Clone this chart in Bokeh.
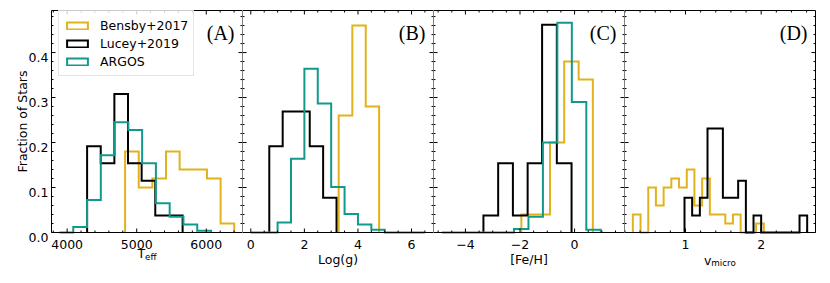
import math
import numpy as np
from bokeh.plotting import figure
from bokeh.models import Range1d, Label, Legend, LegendItem
from bokeh.layouts import row
from bokeh.embed import file_html
from bokeh.resources import INLINE

# ---------------- data (fraction of stars per bin) ----------------
series_names = ["Bensby+2017", "Lucey+2019", "ARGOS"]

# Panel A: Teff
bensby_teff_edges = [4833, 5029, 5225, 5421, 5617, 5814, 6010, 6206, 6402]
bensby_teff_frac = [0.18, 0.10, 0.12, 0.18, 0.14, 0.14, 0.12, 0.02]
lucey_teff_edges = [4287, 4483, 4679, 4875, 5071, 5267, 5464, 5660]
lucey_teff_frac = [0.192, 0.154, 0.308, 0.154, 0.115, 0.038, 0.038]
argos_teff_edges = [3890, 4088, 4286, 4484, 4682, 4880, 5078, 5276, 5474, 5672, 5870, 6068]
argos_teff_frac = [0.0, 0.012, 0.072, 0.172, 0.245, 0.228, 0.154, 0.065, 0.035, 0.018, 0.004]

# Panel B: log g
bensby_logg_edges = [3.28, 3.79, 4.29, 4.79]
bensby_logg_frac = [0.26, 0.46, 0.28]
lucey_logg_edges = [0.69, 1.19, 1.69, 2.20, 2.70, 3.20]
lucey_logg_frac = [0.192, 0.269, 0.269, 0.192, 0.077]
argos_logg_edges = [0.0, 0.5, 1.0, 1.5, 2.0, 2.5, 3.0, 3.5, 4.0, 4.5, 5.0, 5.5, 6.0, 6.5]
argos_logg_frac = [0.0, 0.0, 0.022, 0.164, 0.364, 0.287, 0.101, 0.041, 0.018, 0.006, 0.0, 0.0, 0.0]

# Panel C: [Fe/H]
bensby_feh_edges = [-1.95, -1.43, -0.90, -0.38, 0.15, 0.67]
bensby_feh_frac = [0.04, 0.04, 0.20, 0.38, 0.34]
lucey_feh_edges = [-3.34, -2.80, -2.26, -1.72, -1.19, -0.65, -0.11]
lucey_feh_frac = [0.038, 0.154, 0.038, 0.154, 0.462, 0.154]
argos_feh_edges = [-4.87, -4.34, -3.81, -3.28, -2.75, -2.22, -1.69, -1.16, -0.63, -0.10, 0.43, 0.96]
argos_feh_frac = [0.0, 0.0, 0.0, 0.0, 0.0, 0.008, 0.035, 0.20, 0.466, 0.29, 0.006]

# Panel D: v_micro
bensby_vmic_edges = [0.304, 0.406, 0.508, 0.609, 0.711, 0.813, 0.915, 1.017, 1.118, 1.220,
                     1.322, 1.424, 1.526, 1.627, 1.729, 1.831, 1.933, 2.035]
bensby_vmic_frac = [0.04, 0.0, 0.10, 0.06, 0.10, 0.12, 0.10, 0.14, 0.06, 0.12, 0.04, 0.04,
                    0.02, 0.04, 0.0, 0.0, 0.02]
lucey_vmic_edges = [0.987, 1.088, 1.190, 1.291, 1.392, 1.494, 1.595, 1.696, 1.798, 1.899,
                    2.000, 2.101, 2.203, 2.304, 2.405, 2.507, 2.608]
lucey_vmic_frac = [0.077, 0.038, 0.077, 0.231, 0.231, 0.077, 0.077, 0.115, 0.0, 0.038,
                   0.0, 0.0, 0.0, 0.0, 0.0, 0.038]

panel_tags = ["(A)", "(B)", "(C)", "(D)"]
y_tick_values = [0.0, 0.1, 0.2, 0.3, 0.4]
y_axis_title = "Fraction of Stars"

# ---------------- styling ----------------
COLORS = {"Bensby+2017": "#e2b21c", "Lucey+2019": "#000000", "ARGOS": "#119a8c"}
FONT = "DejaVu Sans"
FS = "12.5px"
FW, FH = 191, 222          # panel (axes box) size in px
TOP, BOT = 10, 46          # space above / below the axes box
LEFT, RIGHT = 51, 11
YMAX = 0.4935
MAJ, MIN = 4, 2            # inward tick lengths


def step_outline(edges, vals):
    xs, ys = [edges[0]], [0.0]
    for i, v in enumerate(vals):
        xs += [edges[i], edges[i + 1]]
        ys += [v, v]
    xs.append(edges[-1])
    ys.append(0.0)
    return xs, ys


def tick_positions(lo, hi, step):
    k0 = math.ceil(lo / step - 1e-9)
    k1 = math.floor(hi / step + 1e-9)
    return [k * step for k in range(k0, k1 + 1)]


def make_panel(xr, major, nminor, series, tag, left_pad=0, right_pad=0, minus_labels=False):
    x0, x1 = xr
    sx = (x1 - x0) / FW
    sy = YMAX / FH
    p = figure(width=left_pad + FW + right_pad, height=TOP + FH + BOT,
               x_range=Range1d(x0 - left_pad * sx, x1 + right_pad * sx),
               y_range=Range1d(-BOT * sy, YMAX + TOP * sy),
               x_axis_type=None, y_axis_type=None, min_border=0,
               output_backend="svg", toolbar_location=None)
    p.outline_line_color = None
    p.background_fill_color = "white"
    p.border_fill_color = "white"

    legend_renderers = {}
    for name, edges, vals in series:
        xs, ys = step_outline(edges, vals)
        p.line(xs, ys, line_color=COLORS[name], line_width=2, line_join="miter")
        legend_renderers[name] = p.quad(left=[np.nan], right=[np.nan], top=[np.nan],
                                        bottom=[np.nan], fill_color=None,
                                        line_color=COLORS[name], line_width=2,
                                        line_join="miter")

    # axes box
    p.quad(left=[x0], right=[x1], bottom=[0], top=[YMAX], fill_color=None,
           line_color="black", line_width=1)

    # ticks on all four sides, pointing inward
    majx = tick_positions(x0, x1, major)
    minx = [t for t in tick_positions(x0, x1, major / nminor)
            if min(abs(t - m) for m in majx) > 1e-6 * major]
    majy = tick_positions(0, YMAX, 0.1)
    miny = [t for t in tick_positions(0, YMAX, 0.02)
            if min(abs(t - m) for m in majy) > 1e-6]
    for ticks, ln in ((majx, MAJ), (minx, MIN)):
        p.segment(x0=ticks, y0=[0] * len(ticks), x1=ticks, y1=[ln * sy] * len(ticks),
                  line_color="black", line_width=1)
        p.segment(x0=ticks, y0=[YMAX] * len(ticks), x1=ticks,
                  y1=[YMAX - ln * sy] * len(ticks), line_color="black", line_width=1)
    for ticks, ln in ((majy, MAJ), (miny, MIN)):
        p.segment(x0=[x0] * len(ticks), y0=ticks, x1=[x0 + ln * sx] * len(ticks), y1=ticks,
                  line_color="black", line_width=1)
        p.segment(x0=[x1] * len(ticks), y0=ticks, x1=[x1 - ln * sx] * len(ticks), y1=ticks,
                  line_color="black", line_width=1)

    # x tick labels
    for t in majx:
        txt = ("%g" % t).replace("-", "\u2212") if minus_labels else "%g" % t
        p.add_layout(Label(x=t, y=-12 * sy, text=txt, text_font=FONT, text_font_size=FS,
                           text_align="center", text_baseline="alphabetic",
                           text_color="black"))

    # panel tag
    p.add_layout(Label(x=x1 - 8 * sx, y=YMAX - 22 * sy, text=tag,
                       text_font="Liberation Serif", text_font_size="20px",
                       text_align="right", text_baseline="alphabetic", text_color="black"))
    return p, legend_renderers, sx, sy


def add_xlabel(p, xr, sy, main, sub=None, main_base=21.0, sub_base=24.5, main_w=0, sub_w=0):
    xc = (xr[0] + xr[1]) / 2
    if sub is None:
        p.add_layout(Label(x=xc, y=-main_base * sy, text=main, text_font=FONT,
                           text_font_size=FS, text_align="center",
                           text_baseline="alphabetic", text_color="black"))
        return
    left = -(main_w + sub_w) / 2
    p.add_layout(Label(x=xc, y=-main_base * sy, x_offset=left, text=main, text_font=FONT,
                       text_font_size=FS, text_align="left", text_baseline="alphabetic",
                       text_color="black"))
    p.add_layout(Label(x=xc, y=-sub_base * sy, x_offset=left + main_w, text=sub,
                       text_font=FONT, text_font_size="8.75px", text_align="left",
                       text_baseline="alphabetic", text_color="black"))


xrA, xrB, xrC, xrD = (3775, 6521), (-0.31, 6.82), (-5.17, 1.83), (0.194, 2.718)

pA, legA, sxA, sy = make_panel(xrA, 1000, 5,
                               [("Bensby+2017", bensby_teff_edges, bensby_teff_frac),
                                ("Lucey+2019", lucey_teff_edges, lucey_teff_frac),
                                ("ARGOS", argos_teff_edges, argos_teff_frac)],
                               panel_tags[0], left_pad=LEFT)
pB, _, _, _ = make_panel(xrB, 2, 4,
                         [("Bensby+2017", bensby_logg_edges, bensby_logg_frac),
                          ("Lucey+2019", lucey_logg_edges, lucey_logg_frac),
                          ("ARGOS", argos_logg_edges, argos_logg_frac)], panel_tags[1])
pC, _, _, _ = make_panel(xrC, 2, 4,
                         [("Bensby+2017", bensby_feh_edges, bensby_feh_frac),
                          ("Lucey+2019", lucey_feh_edges, lucey_feh_frac),
                          ("ARGOS", argos_feh_edges, argos_feh_frac)], panel_tags[2],
                         minus_labels=True)
pD, _, _, _ = make_panel(xrD, 1, 5,
                         [("Bensby+2017", bensby_vmic_edges, bensby_vmic_frac),
                          ("Lucey+2019", lucey_vmic_edges, lucey_vmic_frac)], panel_tags[3],
                         right_pad=RIGHT)

add_xlabel(pA, xrA, sy, "T", "eff", main_base=21.0, sub_base=24.5, main_w=7.6, sub_w=11.5)
add_xlabel(pB, xrB, sy, "Log(g)", main_base=27.3)
add_xlabel(pC, xrC, sy, "[Fe/H]", main_base=27.3)
add_xlabel(pD, xrD, sy, "v", "micro", main_base=28.0, sub_base=30.5, main_w=7.4, sub_w=24.7)

# y tick labels and y axis title on panel A
for v in y_tick_values:
    pA.add_layout(Label(x=xrA[0] - 3 * sxA, y=v - 4.5 * sy, text="%.1f" % v, text_font=FONT,
                        text_font_size=FS, text_align="right", text_baseline="alphabetic",
                        text_color="black"))
pA.add_layout(Label(x=LEFT - 29, y=BOT + FH / 2, x_units="screen", y_units="screen",
                    text=y_axis_title, angle=math.pi / 2, text_font=FONT, text_font_size=FS,
                    text_align="center", text_baseline="middle", text_color="black"))

H = TOP + FH + BOT
legend = Legend(items=[LegendItem(label=n, renderers=[legA[n]]) for n in series_names],
                location=(LEFT + 7, H - TOP - 2 - 64))
legend.margin = 0
legend.padding = 5
legend.spacing = 0
legend.label_height = 18
legend.glyph_height = 9
legend.glyph_width = 26
legend.label_standoff = 10
legend.label_text_font = FONT
legend.label_text_font_size = FS
legend.label_text_color = "black"
legend.border_line_color = "#cccccc"
legend.border_line_width = 1
legend.background_fill_alpha = 0.8
pA.add_layout(legend, "center")

layout = row(pA, pB, pC, pD)
open("out.html", "w").write(file_html(layout, INLINE))
